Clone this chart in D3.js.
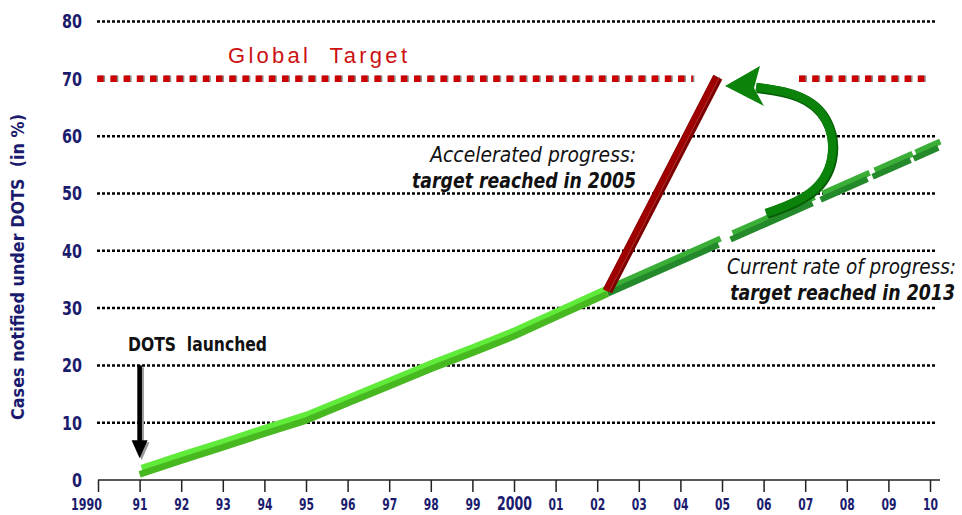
<!DOCTYPE html>
<html>
<head>
<meta charset="utf-8">
<script src="https://cdn.jsdelivr.net/npm/d3@7"></script>
<style>
  body { margin: 0; background: #fff; }
  svg { display: block; }
  .narrow { font-family: "Liberation Sans Narrow", "DejaVu Sans Condensed", "Arial Narrow", sans-serif; }
</style>
</head>
<body>
<main></main>
<script>
// DOTS progress chart: actual, accelerated and current-rate projections

const xTickYears  = d3.range(1990, 2011);
const xTickLabels = ["1990", "91", "92", "93", "94", "95", "96", "97", "98", "99",
                     "2000", "01", "02", "03", "04", "05", "06", "07", "08", "09", "10"];
const yTicks = [0, 10, 20, 30, 40, 50, 60, 70, 80];

const targetValue = 70;

// Case detection under DOTS (%)
const dotsYears  = [1991, 1992, 1993, 1994, 1995, 1996, 1997, 1998, 1999, 2000, 2001, 2002, 2002.25];
const dotsValues = [1.5, 3.9, 6.2, 8.6, 10.9, 13.9, 16.9, 19.9, 22.7, 25.6, 28.9, 32.2, 33.0];

// Accelerated progress: target reached in 2005
const accelYears  = [2002.25, 2004.9];
const accelValues = [33.0, 70.3];

// Current rate of progress: target reached in 2013
const currentYears  = [2002.25, 2010.2];
const currentValues = [33.0, 58.5];

// DOTS launched arrow
const launchYear = 1991;
const launchFrom = 20;
const launchTo   = 3.8;

let width = 962,
    height = 515;

let navy = "#1b1b6e";

let svg = d3.select("main").append("svg")
  .attr("width", width)
  .attr("height", height);

let x = d3.scaleLinear().domain([1990, 2010]).range([98, 930]);
let y = d3.scaleLinear().domain([0, 80]).range([480, 21.5]);

let line = d3.line().x(d => x(d[0])).y(d => y(d[1]));

// Squeeze a text horizontally to a given width (no narrow font installed).
function squeeze(sel, tx, ty, len, anchor) {
  let w = sel.node().getComputedTextLength();
  let sx = len / w;
  sel.attr("x", null).attr("y", null)
    .attr("text-anchor", anchor || "start")
    .attr("transform", `translate(${tx},${ty}) scale(${sx.toFixed(3)},1)`);
  return sel;
}

// Grid lines (dotted), the 70 line is the red target instead.
svg.append("g")
  .selectAll("line")
  .data(yTicks.filter(v => v > 0 && v != targetValue))
  .enter().append("line")
  .attr("x1", 97).attr("x2", 937)
  .attr("y1", d => y(d)).attr("y2", d => y(d))
  .attr("stroke", "#000")
  .attr("stroke-width", 2.5)
  .attr("stroke-dasharray", "3,2");

// Global target line, two pieces with a gap for the arrow head.
let targetPieces = [[1989.98, 2004.3], [2006.85, 2009.9]];
targetPieces.forEach(function(p) {
  svg.append("line")
    .attr("x1", x(p[0]) + 1.5).attr("x2", x(p[1]) + 1.5)
    .attr("y1", y(targetValue)).attr("y2", y(targetValue))
    .attr("stroke", "#8c8c8c").attr("stroke-width", 6.5)
    .attr("stroke-dasharray", "6.5,6.7");
  svg.append("line")
    .attr("x1", x(p[0])).attr("x2", x(p[1]))
    .attr("y1", y(targetValue)).attr("y2", y(targetValue))
    .attr("stroke", "#cc0000").attr("stroke-width", 6.5)
    .attr("stroke-dasharray", "6.5,6.7");
});

svg.append("text")
  .attr("x", 228).attr("y", 63)
  .attr("xml:space", "preserve")
  .attr("textLength", 179)
  .attr("lengthAdjust", "spacing")
  .style("font-family", "'Liberation Sans', Arial, sans-serif")
  .style("font-size", "22px")
  .attr("fill", "#cc1111")
  .text("Global  Target");

// X axis
let xAxis = d3.axisBottom(x)
  .tickValues(xTickYears)
  .tickSize(12)
  .tickFormat((d, i) => xTickLabels[i]);

let gx = svg.append("g")
  .attr("transform", "translate(0,480)")
  .call(xAxis);
gx.select(".domain").remove();
gx.selectAll(".tick line").attr("stroke", "#222").attr("stroke-width", 1.5);
gx.selectAll(".tick text")
  .attr("class", "narrow")
  .attr("y", 30)
  .attr("dy", 0)
  .attr("fill", navy)
  .style("font-weight", "bold")
  .style("font-size", (d, i) => (xTickLabels[i] == "2000" ? "19px" : "16px"))
  .attr("textLength", (d, i) => (xTickLabels[i] == "2000" ? 35 : xTickLabels[i].length == 4 ? 31 : 15))
  .attr("lengthAdjust", "spacingAndGlyphs")
  .attr("dx", (d, i) => (i == 0 ? -12 : 0));
gx.append("line")
  .attr("x1", 98).attr("x2", 940)
  .attr("y1", 0).attr("y2", 0)
  .attr("stroke", "#222").attr("stroke-width", 1.5);

// Y axis labels only
let yAxis = d3.axisLeft(y).tickValues(yTicks).tickSize(0).tickPadding(0);
let gy = svg.append("g")
  .attr("transform", "translate(82,0)")
  .call(yAxis);
gy.select(".domain").remove();
gy.selectAll(".tick text")
  .attr("class", "narrow")
  .attr("fill", navy)
  .style("font-weight", "bold")
  .style("font-size", "20px")
  .attr("textLength", d => (d == 0 ? 10 : 20))
  .attr("lengthAdjust", "spacingAndGlyphs");

svg.append("text")
  .attr("class", "narrow")
  .attr("transform", "translate(24,267) rotate(-90)")
  .attr("text-anchor", "middle")
  .attr("xml:space", "preserve")
  .attr("textLength", 306)
  .attr("lengthAdjust", "spacingAndGlyphs")
  .attr("fill", navy)
  .style("font-weight", "bold")
  .style("font-size", "17px")
  .text("Cases notified under DOTS  (in %)");

// 3D looking ribbon: lighter top face plus darker front face.
function ribbon(pts, top, front, w, dash) {
  let g = svg.append("g");
  let a = g.append("path")
    .attr("d", line(pts))
    .attr("transform", "translate(2,-3.2)")
    .attr("fill", "none")
    .attr("stroke", top)
    .attr("stroke-width", w)
    .attr("stroke-linejoin", "round");
  let b = g.append("path")
    .attr("d", line(pts))
    .attr("transform", "translate(0,3)")
    .attr("fill", "none")
    .attr("stroke", front)
    .attr("stroke-width", w)
    .attr("stroke-linejoin", "round");
  if (dash) {
    let len = b.node().getTotalLength();
    let dx = x(pts[pts.length - 1][0]) - x(pts[0][0]);
    let k = len / dx;
    let da = dash.map(v => (v * k).toFixed(2)).join(",");
    a.attr("stroke-dasharray", da);
    b.attr("stroke-dasharray", da);
  }
  return g;
}

// Current rate of progress (dashed, dark green)
ribbon(d3.zip(currentYears, currentValues), "#3aae37", "#23892a", 6,
  [111, 12, 82, 8, 47, 5, 38, 3, 40]);

// Actual progress (light green)
ribbon(d3.zip(dotsYears, dotsValues), "#60ea3a", "#47b81f", 6.5);

// Accelerated progress (red bar)
let accel = d3.zip(accelYears, accelValues);
svg.append("path")
  .attr("d", line(accel))
  .attr("fill", "none")
  .attr("stroke", "#7c0000")
  .attr("stroke-width", 10);
svg.append("path")
  .attr("d", line(accel))
  .attr("transform", "translate(-1.5,0)")
  .attr("fill", "none")
  .attr("stroke", "#9e0000")
  .attr("stroke-width", 6.5);
svg.append("path")
  .attr("d", line(accel))
  .attr("transform", "translate(1.8,0)")
  .attr("fill", "none")
  .attr("stroke", "#c05050")
  .attr("stroke-width", 0.6);

// Curved green arrow from current rate back to the target
let curve = d3.line().curve(d3.curveBasis);
let arrowPts = [[766, 213], [814, 196], [836, 160], [829, 116], [800, 93], [756, 87]];
svg.append("path")
  .attr("d", curve(arrowPts))
  .attr("fill", "none")
  .attr("stroke", "#075f07")
  .attr("stroke-width", 10)
  .attr("transform", "translate(1,1)");
svg.append("path")
  .attr("d", curve(arrowPts))
  .attr("fill", "none")
  .attr("stroke", "#0b830b")
  .attr("stroke-width", 8.5);
svg.append("polygon")
  .attr("points", "725,86 760,66 754,88 764,106")
  .attr("fill", "#0b830b");

// DOTS launched arrow
let ax = x(launchYear);
svg.append("g")
  .attr("transform", "translate(2,2)")
  .call(g => {
    g.append("rect").attr("x", ax - 2.3).attr("y", y(launchFrom)).attr("width", 4.6)
      .attr("height", y(launchTo) - y(launchFrom) - 16).attr("fill", "#999");
    g.append("polygon")
      .attr("points", [[ax - 8, y(launchTo) - 18], [ax + 8, y(launchTo) - 18], [ax, y(launchTo)]].join(" "))
      .attr("fill", "#999");
  });
svg.append("rect")
  .attr("x", ax - 2.3).attr("y", y(launchFrom)).attr("width", 4.6)
  .attr("height", y(launchTo) - y(launchFrom) - 16).attr("fill", "#000");
svg.append("polygon")
  .attr("points", [[ax - 8, y(launchTo) - 18], [ax + 8, y(launchTo) - 18], [ax, y(launchTo)]].join(" "))
  .attr("fill", "#000");

squeeze(svg.append("text")
  .attr("class", "narrow")
  .attr("xml:space", "preserve")
  .style("font-weight", "bold")
  .style("font-size", "19px")
  .attr("fill", "#111")
  .text("DOTS  launched"), 128, 351, 139);

// Annotations
function note(xEnd, yBase, str, bold, len) {
  let t = svg.append("text")
    .attr("class", "narrow")
    .style("font-style", "italic")
    .style("font-weight", bold ? "bold" : "normal")
    .style("font-size", "22px")
    .attr("fill", "#111")
    .text(str);
  squeeze(t, xEnd, yBase, len, "end");
}

note(636, 162, "Accelerated progress:", false, 206);
note(636, 188, "target reached in 2005", true, 224);
note(956, 274, "Current rate of progress:", false, 229);
note(955, 300, "target reached in 2013", true, 225);
</script>
</body>
</html>
